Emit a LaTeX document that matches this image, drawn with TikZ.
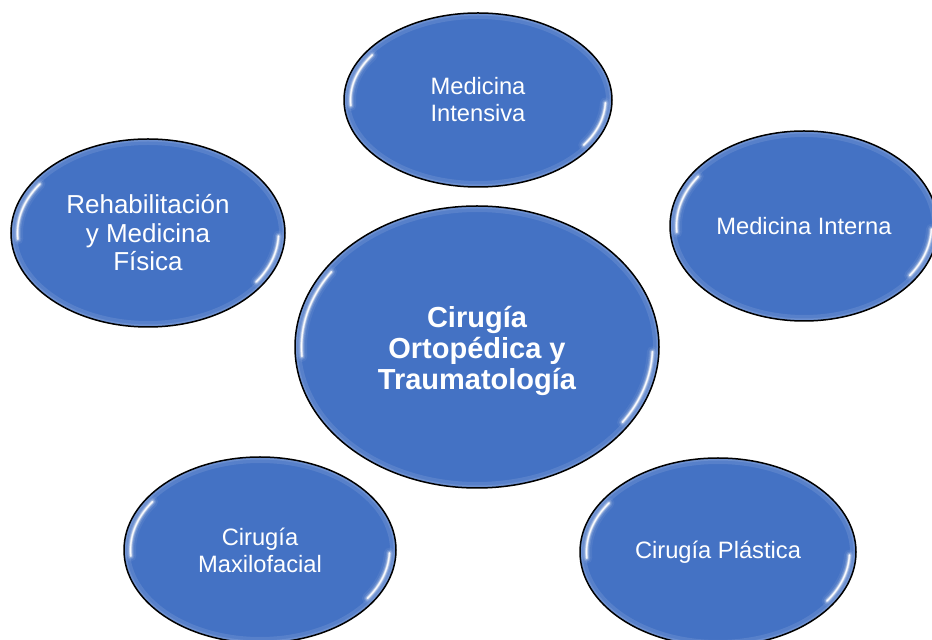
\documentclass[tikz,border=0pt]{standalone}
\usepackage{fontspec}
\setmainfont{Liberation Sans}
\usetikzlibrary{calc,shapes.geometric}
\definecolor{bubblefill}{RGB}{68,114,196}
\tikzset{
  bubble/.style={ellipse, draw=black, line width=1.5pt, fill=bubblefill,
    text=white, align=center, inner sep=0pt, outer sep=0pt,
    path picture={
      \pgfpointdiff{\pgfpointanchor{path picture bounding box}{center}}{\pgfpointanchor{path picture bounding box}{north east}}
      \pgfgetlastxy{\brx}{\bry}
      \pgfmathsetlengthmacro\brxi{\brx-6.5pt}
      \pgfmathsetlengthmacro\bryi{\bry-6.5pt}
      \coordinate (pc) at (path picture bounding box.center);
      \draw[white, opacity=0.10, line width=12pt] (pc) ellipse [x radius=\brx, y radius=\bry];
      \draw[white, opacity=0.12, line width=5pt] (pc) ellipse [x radius=\brx, y radius=\bry];
      \foreach \lw/\op in {11pt/0.06, 7pt/0.12, 4.5pt/0.22, 2.8pt/0.4, 1.6pt/0.65, 0.8pt/0.9}{
        \draw[white, opacity=\op, line width=\lw, line cap=round]
          ($(pc)+(146:{\brxi} and {\bryi})$) arc[start angle=146, end angle=184, x radius=\brxi, y radius=\bryi];
        \draw[white, opacity=\op, line width=\lw, line cap=round]
          ($(pc)+(-2:{\brxi} and {\bryi})$) arc[start angle=-2, end angle=-34, x radius=\brxi, y radius=\bryi];
      }
    }},
  smalltext/.style={font=\fontsize{23.7pt}{27pt}\selectfont},
  midtext/.style={font=\fontsize{26pt}{28.5pt}\selectfont},
  bigtext/.style={font=\bfseries\fontsize{29pt}{31pt}\selectfont, text=white, align=center},
}
\begin{document}
\begin{tikzpicture}[x=1pt,y=1pt]
  \useasboundingbox (0,0) rectangle (932,640);
  \clip (0,0) rectangle (932,640);
  \fill[white] (0,0) rectangle (932,640);
  \node[bubble, minimum width=364pt, minimum height=282pt] (core) at (477,293) {};
  \node[bigtext] (coretext) at (477,289) {Cirugía\\Ortopédica y\\Traumatología};
  \node[bubble, smalltext, minimum width=268pt, minimum height=174pt] (intensiva) at (478,540)
    {Medicina\\Intensiva};
  \node[bubble, midtext, minimum width=274pt, minimum height=188pt] (rehab) at (148,407)
    {Rehabilitación\\y Medicina\\Física};
  \node[bubble, smalltext, minimum width=268pt, minimum height=190pt] (interna) at (804,414)
    {Medicina Interna};
  \node[bubble, smalltext, minimum width=272pt, minimum height=186pt] (maxilo) at (260,90)
    {Cirugía\\Maxilofacial};
  \node[bubble, smalltext, minimum width=276pt, minimum height=188pt] (plastica) at (718,88)
    {Cirugía Plástica};
\end{tikzpicture}
\end{document}
